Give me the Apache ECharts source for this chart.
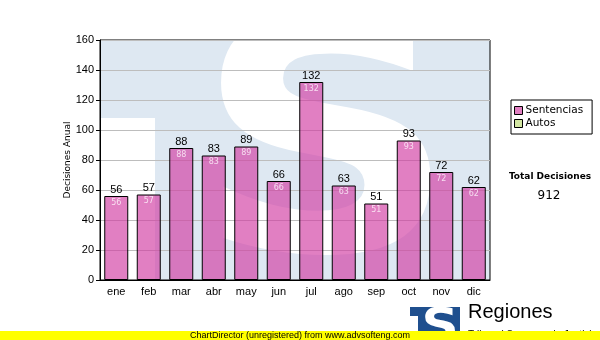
<!DOCTYPE html>
<html>
<head>
<meta charset="utf-8">
<title>Decisiones Anual</title>
<script src="https://cdn.jsdelivr.net/npm/echarts@6/dist/echarts.min.js"></script>
<style>
  html, body { margin: 0; padding: 0; background: #fff; }
  #chart { width: 600px; height: 340px; }
</style>
</head>
<body>
<div id="chart"></div>
<script>
// Monthly decisions
const months = ['ene', 'feb', 'mar', 'abr', 'may', 'jun', 'jul', 'ago', 'sep', 'oct', 'nov', 'dic'];
const sentencias = [56, 57, 88, 83, 89, 66, 132, 63, 51, 93, 72, 62];
const autos = [];
const yMin = 0;
const yMax = 160;
const yStep = 20;

const total = sentencias.reduce((a, b) => a + b, 0) + autos.reduce((a, b) => a + b, 0);

const ARIAL = '"Liberation Sans", Arial, sans-serif';
const VERDANA = '"DejaVu Sans", Verdana, sans-serif';

const chart = echarts.init(document.getElementById('chart'), null, { renderer: 'canvas' });

chart.setOption({
  animation: false,
  backgroundColor: '#ffffff',
  grid: {
    left: 100, top: 40, width: 390, height: 240,
    show: true, borderColor: '#000', borderWidth: 1, backgroundColor: 'transparent'
  },
  legend: {
    orient: 'vertical',
    left: 511, top: 100,
    padding: [5, 9, 5, 3],
    itemGap: 2,
    itemWidth: 8, itemHeight: 8,
    icon: 'rect',
    borderColor: '#000', borderWidth: 1,
    backgroundColor: '#fff',
    data: ['Sentencias', 'Autos'],
    itemStyle: { borderColor: '#000', borderWidth: 1 },
    textStyle: { fontFamily: VERDANA, fontSize: 10.5, color: '#000', padding: [0, 0, 0, -2] }
  },
  xAxis: {
    type: 'category',
    data: months,
    axisLine: { lineStyle: { color: '#000', width: 1 } },
    axisTick: { alignWithLabel: true, length: 4, lineStyle: { color: '#000' } },
    axisLabel: { margin: 6, color: '#000', fontFamily: ARIAL, fontSize: 11 }
  },
  yAxis: {
    type: 'value',
    min: yMin, max: yMax, interval: yStep,
    name: 'Decisiones Anual',
    nameLocation: 'middle',
    nameGap: 28,
    nameMoveOverlap: false,
    nameTextStyle: { fontFamily: VERDANA, fontSize: 9, color: '#000' },
    axisLine: { show: true, lineStyle: { color: '#000', width: 1 } },
    axisTick: { show: true, length: 4, lineStyle: { color: '#000' } },
    axisLabel: { margin: 6, color: '#000', fontFamily: ARIAL, fontSize: 11 },
    splitLine: { lineStyle: { color: '#bdbdbd', width: 1 } }
  },
  series: [
    {
      name: 'Sentencias',
      type: 'bar',
      stack: 'total',
      data: sentencias,
      barWidth: 24,
      itemStyle: { color: 'rgba(210, 60, 162, 0.66)', borderColor: '#000', borderWidth: 1 },
      label: {
        show: true, position: 'top', distance: 1,
        color: '#000', fontFamily: ARIAL, fontSize: 11
      },
      z: 3
    },
    {
      name: 'Autos',
      type: 'bar',
      stack: 'total',
      data: autos,
      barWidth: 24,
      itemStyle: { color: '#d2e6a2', borderColor: '#000', borderWidth: 1 }
    },
    {
      // value printed inside the top of each bar
      name: 'Sentencias valor',
      type: 'scatter',
      data: sentencias,
      symbolSize: 1,
      silent: true,
      itemStyle: { color: 'rgba(0,0,0,0)' },
      label: {
        show: true, position: 'bottom', distance: 2,
        color: '#fff6fc', fontFamily: VERDANA, fontSize: 8
      },
      z: 5
    }
  ],
  graphic: [
    // watermark inside the plot area
    { type: 'rect', z: -20, shape: { x: 100, y: 40, width: 390, height: 240 }, style: { fill: '#dee8f2' } },
    { type: 'rect', z: -19, shape: { x: 100, y: 118, width: 55, height: 162 }, style: { fill: '#ffffff' } },
    {
      type: 'text', z: -18, x: 326, y: 166, scaleX: 1.12,
      style: { text: 'S', font: 'bold 325px "DejaVu Sans"', fill: '#ffffff', textAlign: 'center', textVerticalAlign: 'middle' }
    },
    { type: 'rect', z: -17, shape: { x: 90, y: 0, width: 410, height: 40 }, style: { fill: '#ffffff' } },
    { type: 'rect', z: -17, shape: { x: 90, y: 280, width: 410, height: 60 }, style: { fill: '#ffffff' } },

    // total box
    {
      type: 'text', x: 550, y: 177,
      style: { text: 'Total Decisiones', font: 'bold 9px "DejaVu Sans"', fill: '#000', textAlign: 'center', textVerticalAlign: 'middle' }
    },
    {
      type: 'text', x: 549, y: 196,
      style: { text: String(total), font: '12px "DejaVu Sans"', fill: '#000', textAlign: 'center', textVerticalAlign: 'middle' }
    },

    // footer logo
    { type: 'rect', z: 1, shape: { x: 410, y: 307, width: 50, height: 33 }, style: { fill: '#1f4f8e' } },
    { type: 'rect', z: 2, shape: { x: 410, y: 316, width: 8, height: 24 }, style: { fill: '#ffffff' } },
    {
      type: 'text', z: 2, x: 440, y: 329, scaleX: 1.1,
      style: { text: 'S', font: 'bold 47px "DejaVu Sans"', fill: '#ffffff', textAlign: 'center', textVerticalAlign: 'middle' }
    },
    {
      type: 'text', z: 2, x: 468, y: 322,
      style: { text: 'Regiones', font: '20px "Liberation Sans"', fill: '#000', textAlign: 'left', textVerticalAlign: 'bottom' }
    },
    {
      type: 'text', z: 2, x: 468, y: 335,
      style: { text: 'Tribunal Supremo de Justicia', font: '10px "Liberation Sans"', fill: '#000', textAlign: 'left', textVerticalAlign: 'middle' }
    },

    // unregistered banner
    { type: 'rect', z: 10, shape: { x: 0, y: 331, width: 600, height: 9 }, style: { fill: '#ffff00' } },
    {
      type: 'text', z: 11, x: 300, y: 336,
      style: { text: 'ChartDirector (unregistered) from www.advsofteng.com', font: '9px "Liberation Sans"', fill: '#000', textAlign: 'center', textVerticalAlign: 'middle' }
    }
  ]
});
</script>
</body>
</html>
